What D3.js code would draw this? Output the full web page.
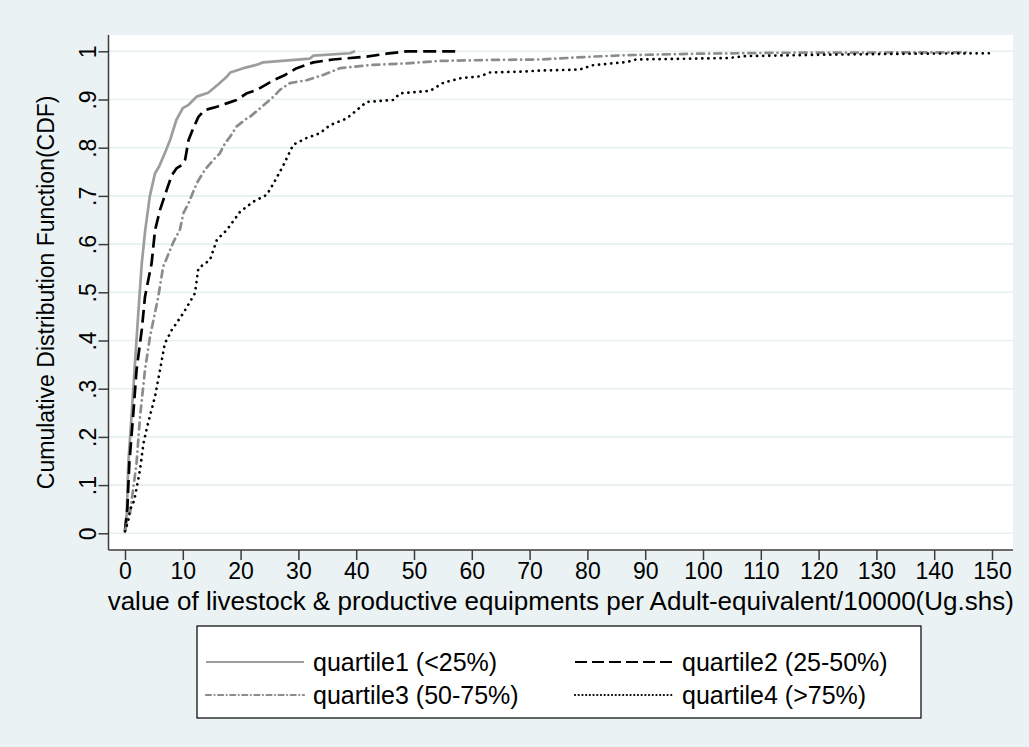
<!DOCTYPE html>
<html>
<head>
<meta charset="utf-8">
<script src="https://cdn.jsdelivr.net/npm/d3@7"></script>
<style>
  body { margin: 0; background: #eaf2f3; }
  svg text { font-family: "Liberation Sans", Arial, sans-serif; fill: #000; }
</style>
</head>
<body>
<script>
// CDF points: [value, cumulative share]
const q1 = [[0,0.005],[0.3,0.04],[0.58,0.146],[1.16,0.249],[1.73,0.353],[2.3,0.457],[2.9,0.56],[3.5,0.629],
  [4.3,0.70],[5.2,0.747],[5.9,0.761],[6.9,0.789],[7.8,0.816],[8.9,0.858],[10.0,0.882],[11.0,0.889],[12.4,0.906],
  [14.4,0.914],[16.1,0.931],[17.6,0.947],[18.2,0.956],[20.5,0.965],[22.8,0.972],[23.9,0.977],[32.0,0.985],
  [32.6,0.991],[38.9,0.996],[39.8,1.0]];
const q2 = [[0,0.005],[0.4,0.05],[0.75,0.146],[1.44,0.249],[2.0,0.339],[2.9,0.422],[3.46,0.491],[4.6,0.56],
  [5.2,0.629],[6.06,0.671],[7.2,0.712],[8.1,0.743],[8.9,0.757],[9.8,0.764],[10.4,0.775],[11.0,0.816],[11.8,0.84],
  [12.7,0.864],[13.8,0.878],[15.9,0.885],[17.6,0.892],[19.3,0.899],[21.1,0.913],[22.8,0.92],[25.7,0.94],
  [27.7,0.951],[29.7,0.965],[32.6,0.977],[36.0,0.983],[41.8,0.989],[45.3,0.995],[48.7,1.0],[58.0,1.0]];
const q3 = [[0,0.005],[0.87,0.042],[2.0,0.146],[2.6,0.242],[3.46,0.339],[4.33,0.408],[5.76,0.491],[6.6,0.553],
  [8.4,0.605],[9.5,0.63],[10.1,0.664],[11.0,0.685],[12.4,0.726],[13.8,0.754],[15.3,0.775],[16.4,0.788],
  [17.3,0.809],[18.2,0.823],[19.3,0.844],[21.1,0.861],[21.6,0.864],[23.4,0.882],[25.7,0.906],[26.8,0.92],
  [28.5,0.934],[31.4,0.94],[34.3,0.951],[37.2,0.965],[43.0,0.972],[48.7,0.975],[54.5,0.98],[63.1,0.982],
  [71.8,0.983],[80.9,0.989],[86.9,0.992],[98.9,0.995],[113.8,0.997],[146,0.998]];
const q4 = [[0,0.004],[0.58,0.028],[0.87,0.049],[1.44,0.063],[1.73,0.076],[2.6,0.132],[3.2,0.187],[4.0,0.229],
  [5.2,0.284],[6.06,0.339],[6.9,0.394],[8.1,0.422],[10.1,0.457],[12.1,0.498],[12.7,0.55],[14.7,0.567],
  [15.9,0.609],[17.6,0.629],[19.9,0.667],[22.2,0.688],[24.5,0.702],[25.7,0.726],[27.3,0.761],[29.1,0.806],
  [31.4,0.82],[33.7,0.83],[35.5,0.847],[38.4,0.861],[39.8,0.875],[41.8,0.895],[46.4,0.899],[47.6,0.913],
  [52.8,0.918],[55.1,0.935],[58.0,0.944],[61.4,0.948],[63.1,0.956],[68.9,0.958],[71.8,0.96],[78.6,0.962],
  [80.9,0.971],[86.9,0.978],[88.4,0.983],[104.4,0.986],[107.1,0.99],[121.3,0.993],[136.3,0.995],[150,0.996]];

const seriesNames = ["quartile1 (<25%)", "quartile2 (25-50%)", "quartile3 (50-75%)", "quartile4 (>75%)"];
const xTicks = d3.range(0, 151, 10);
const yTicks = [0, .1, .2, .3, .4, .5, .6, .7, .8, .9, 1];
const yLabels = ["0", ".1", ".2", ".3", ".4", ".5", ".6", ".7", ".8", ".9", "1"];

const styles = [
  { color: "#9d9d9d", dash: null, cap: "butt", key: null },
  { color: "#000000", dash: "13 6", cap: "butt", key: "12 5" },
  { color: "#8c8c8c", dash: "7 5 0.1 5", cap: "round", key: "5 3.5 0.1 3.5" },
  { color: "#000000", dash: "0.1 6", cap: "round", key: "0.1 3.6" }
];

const W = 1029, H = 747;
const plot = { left: 108.5, right: 1013, top: 35, bottom: 550 };

const svg = d3.select("body").append("svg")
  .attr("width", W).attr("height", H);

svg.append("rect").attr("width", W).attr("height", H).attr("fill", "#eaf2f3");
svg.append("rect")
  .attr("x", plot.left).attr("y", plot.top)
  .attr("width", plot.right - plot.left).attr("height", plot.bottom - plot.top)
  .attr("fill", "#fff");

const x = d3.scaleLinear().domain([0, 150]).range([125, 992]);
const y = d3.scaleLinear().domain([0, 1]).range([533.3, 51.3]);

// grid
svg.append("g").selectAll("line").data(yTicks).join("line")
  .attr("x1", plot.left).attr("x2", plot.right)
  .attr("y1", d => y(d)).attr("y2", d => y(d))
  .attr("stroke", "#e6eff1").attr("stroke-width", 1.6);

// y axis
const yAxis = svg.append("g").attr("transform", `translate(${plot.left},0)`)
  .call(d3.axisLeft(y).tickValues(yTicks).tickSize(10).tickFormat((d, i) => yLabels[i]));
yAxis.select(".domain").attr("d", `M0,${plot.top}V${plot.bottom}`).attr("stroke", "#3c3c3c").attr("stroke-width", 1.5);
yAxis.selectAll(".tick line").attr("stroke", "#3c3c3c").attr("stroke-width", 1.5);
yAxis.selectAll(".tick text")
  .attr("x", null).attr("dy", null)
  .attr("transform", "translate(-13,0) rotate(-90)")
  .attr("text-anchor", "middle")
  .style("font-size", "23px");

// x axis
const xAxis = svg.append("g").attr("transform", `translate(0,${plot.bottom})`)
  .call(d3.axisBottom(x).tickValues(xTicks).tickSize(10));
xAxis.select(".domain").attr("d", `M${plot.left},0H${plot.right}`).attr("stroke", "#3c3c3c").attr("stroke-width", 1.5);
xAxis.selectAll(".tick line").attr("stroke", "#3c3c3c").attr("stroke-width", 1.5);
xAxis.selectAll(".tick text").attr("y", 13).attr("dy", "0.71em").style("font-size", "23px");

// titles
svg.append("text")
  .attr("transform", `translate(54,${(y(0) + y(1)) / 2}) rotate(-90)`)
  .attr("text-anchor", "middle").style("font-size", "23px")
  .text("Cumulative Distribution Function(CDF)");
svg.append("text")
  .attr("x", (plot.left + plot.right) / 2).attr("y", 610)
  .attr("text-anchor", "middle").style("font-size", "26px")
  .text("value of livestock & productive equipments per Adult-equivalent/10000(Ug.shs)");

// curves
const line = d3.line().x(d => x(d[0])).y(d => y(d[1]));
[q1, q2, q3, q4].forEach((s, i) => {
  svg.append("path").datum(s)
    .attr("d", line)
    .attr("fill", "none")
    .attr("stroke", styles[i].color)
    .attr("stroke-width", 2.7)
    .attr("stroke-dasharray", styles[i].dash)
    .attr("stroke-linecap", styles[i].cap)
    .attr("stroke-linejoin", "round");
});

// legend
const lg = svg.append("g");
lg.append("rect").attr("x", 197).attr("y", 626).attr("width", 724).attr("height", 92)
  .attr("fill", "#fff").attr("stroke", "#000").attr("stroke-width", 1.2);
const cols = [206, 575];
const rows = [662, 695];
seriesNames.forEach((name, i) => {
  const cx = cols[i % 2], cy = rows[Math.floor(i / 2)];
  lg.append("line").attr("x1", cx).attr("x2", cx + 98).attr("y1", cy).attr("y2", cy)
    .attr("stroke", styles[i].color).attr("stroke-width", 2.2)
    .attr("stroke-dasharray", styles[i].key)
    .attr("stroke-linecap", styles[i].cap);
  lg.append("text").attr("x", cx + 107).attr("y", cy).attr("dy", "0.36em")
    .style("font-size", "25px").text(name);
});
</script>
</body>
</html>
